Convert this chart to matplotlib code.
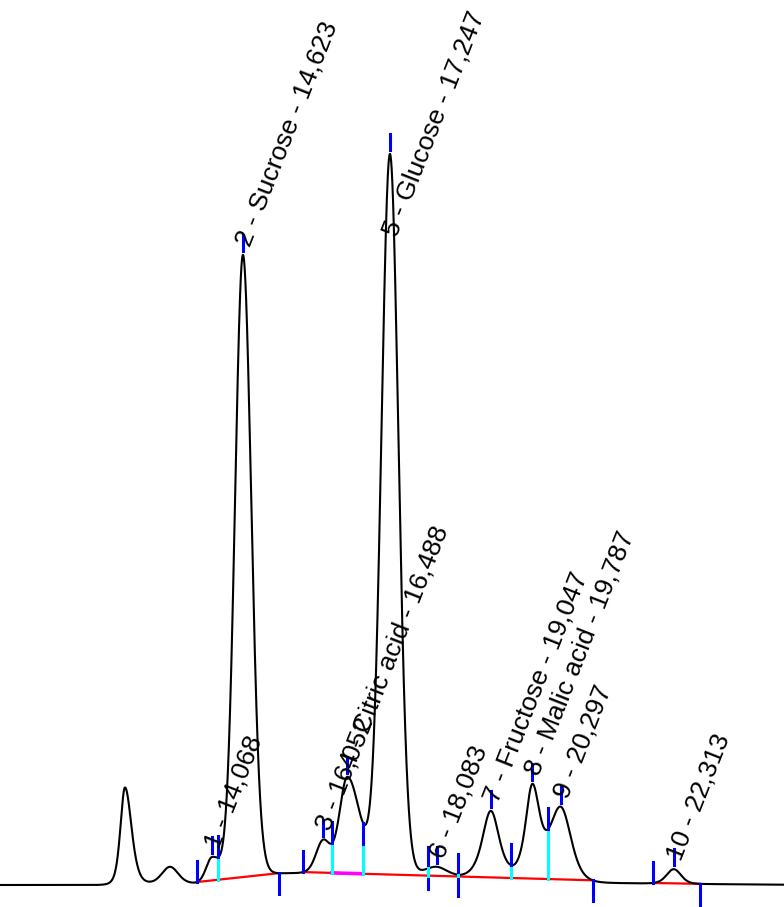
import numpy as np
import matplotlib
matplotlib.use("Agg")
import matplotlib.pyplot as plt

# ---------------- data ----------------
# retention-time axis limits (minutes) and signal limits (arbitrary units)
t_range = (10.287, 24.28)
signal_range = (-21.0, 886.0)

# drifting detector baseline (time, signal)
baseline_t = [10.287, 12.0, 13.0, 13.8, 14.3, 15.0, 15.7, 16.8, 17.9, 18.5, 20.9, 22.0, 22.8, 24.28]
baseline_v = [1.0, 1.0, 2.0, 2.5, 6.0, 12.5, 13.0, 11.5, 10.0, 6.0, 3.0, 2.5, 2.0, 1.3]

# chromatographic peaks (apex time, height, half width left/right in min, shape)
peak_rt = [12.518, 13.321, 14.068, 14.623, 16.052, 16.488, 17.247, 18.083, 19.047, 19.787, 20.297, 22.313]
peak_height = [97, 17, 24, 622, 32, 97, 720, 10, 69, 92, 72, 14.5]
peak_hw_left = [0.095, 0.17, 0.12, 0.166, 0.147, 0.168, 0.18, 0.25, 0.18, 0.143, 0.223, 0.15]
peak_hw_right = [0.135, 0.17, 0.168, 0.174, 0.147, 0.262, 0.178, 0.25, 0.18, 0.16, 0.214, 0.15]
peak_shape = [4, 6, 10, 30, 10, 10, 30, 2, 2, 2, 4, 6]

# identified peaks
label_num = [1, 2, 3, 4, 5, 6, 7, 8, 9, 10]
label_name = ["", "Sucrose", "", "Citric acid", "Glucose", "", "Fructose", "Malic acid", "", ""]
label_rt = [14.068, 14.623, 16.052, 16.488, 17.247, 18.083, 19.047, 19.787, 20.297, 22.313]
label_rt_text = ["14,068", "14,623", "16,052", "16,488", "17,247", "18,083", "19,047", "19,787", "20,297", "22,313"]

# integration events
seg_start = [13.802, 15.694, 21.938]
seg_end = [15.265, 20.868, 22.777]
drop_t = [14.177, 16.211, 16.764, 17.924, 18.459, 19.405, 20.065]
drop_tick = ["up", "up", "down", "both", "both", "up", "up"]
flagged_from = [16.211]
flagged_to = [16.764]

# ---------------- model of the trace ----------------
def signal(t):
    t = np.asarray(t, dtype=float)
    y = np.interp(t, baseline_t, baseline_v)
    for rt, h, wl, wr, m in zip(peak_rt, peak_height, peak_hw_left, peak_hw_right, peak_shape):
        w = np.where(t < rt, wl, wr)
        u = (t - rt) / w
        y = y + h * (1.0 + u ** 2 * (2.0 ** (1.0 / m) - 1.0)) ** (-m)
    return y

BLUE = "#0000FF"
CYAN = "#00FFFF"
RED = "#FF0000"
MAGENTA = "#FF00FF"
TICK = 21.0

fig = plt.figure(figsize=(7.84, 9.07), dpi=100)
ax = fig.add_axes([0, 0, 1, 1])
ax.set_xlim(*t_range)
ax.set_ylim(*signal_range)
ax.axis("off")

tt = np.linspace(t_range[0], t_range[1], 6000)
ax.plot(tt, signal(tt), color="black", lw=1.5, zorder=3, solid_joinstyle="round")

# integration baselines
def base_at(t):
    for s, e in zip(seg_start, seg_end):
        if s <= t <= e:
            ys, ye = signal(s), signal(e)
            return ys + (ye - ys) * (t - s) / (e - s)
    return float(signal(t))

for s, e in zip(seg_start, seg_end):
    ax.plot([s, e], [signal(s), signal(e)], color=RED, lw=1.6, zorder=2)
for a, b in zip(flagged_from, flagged_to):
    ax.plot([a, b], [base_at(a), base_at(b)], color=MAGENTA, lw=2.6, zorder=2.5)

# start / end ticks
for s in seg_start:
    y = float(signal(s))
    ax.plot([s, s], [y, y + TICK], color=BLUE, lw=2.2, zorder=4)
for e in seg_end:
    y = float(signal(e))
    ax.plot([e, e], [y, y - TICK], color=BLUE, lw=2.2, zorder=4)

# drop lines
for d, kind in zip(drop_t, drop_tick):
    yc = float(signal(d))
    yb = base_at(d)
    if kind == "both":
        ax.plot([d, d], [yc - TICK, yc + TICK], color=BLUE, lw=2.2, zorder=3.5)
        ax.plot([d, d], [yb, yc], color=CYAN, lw=2.2, zorder=3.6)
    else:
        ax.plot([d, d], [yb, yc], color=CYAN, lw=2.2, zorder=3.5)
        if kind == "up":
            ax.plot([d, d], [yc, yc + TICK], color=BLUE, lw=2.2, zorder=4)
        else:
            ax.plot([d, d], [yc, yc - TICK], color=BLUE, lw=2.2, zorder=4)

# apex ticks and labels
fig.canvas.draw()
renderer = fig.canvas.get_renderer()
for num, name, rt, rtt in zip(label_num, label_name, label_rt, label_rt_text):
    ya = float(signal(rt))
    ax.plot([rt, rt], [ya + 4, ya + 20], color=BLUE, lw=2.2, zorder=4)
    txt = f"{num} - {name} - {rtt}" if name else f"{num} - {rtt}"
    t_obj = ax.text(rt, ya + 10, txt, rotation=68.5, rotation_mode="anchor",
                    ha="left", va="center", fontsize=19, family="Liberation Sans",
                    color="black", zorder=5)
    bb = t_obj.get_window_extent(renderer)
    top_limit = fig.bbox.height - 8
    if bb.y1 > top_limit:
        t_obj.set_position((rt, ya + 10 - (bb.y1 - top_limit)))

fig.savefig("out.png", dpi=100)
